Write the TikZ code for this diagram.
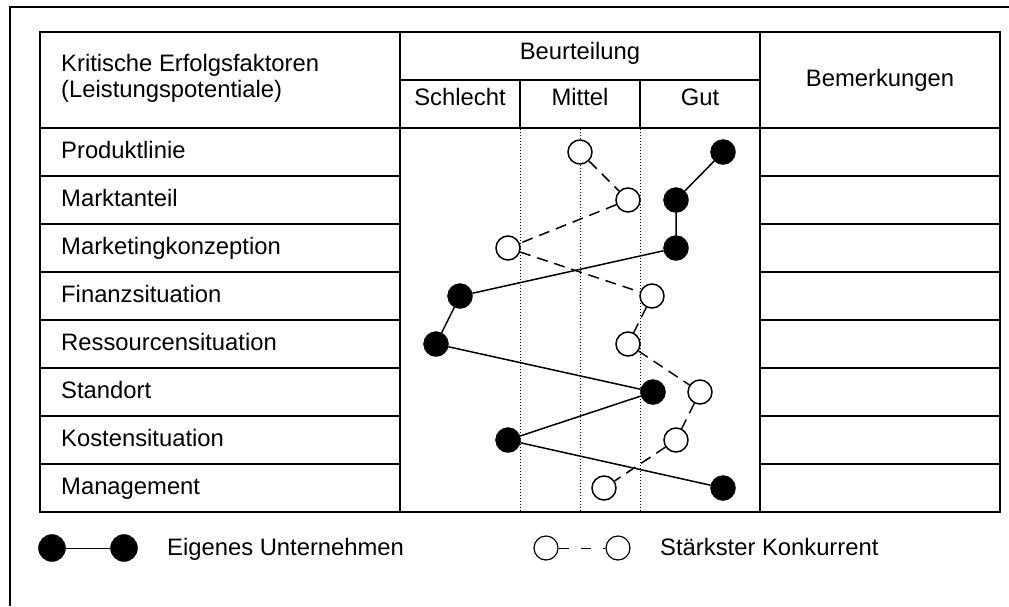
\documentclass[tikz,border=0pt]{standalone}
\usepackage{fontspec}
\setmainfont{Liberation Sans}
\begin{document}
\begin{tikzpicture}[x=1pt,y=-1pt,font=\fontsize{23.8}{28}\selectfont,
  grid/.style={line width=2pt},
  dotline/.style={line width=1pt,dash pattern=on 1pt off 2pt},
  own/.style={circle,fill=black,draw=black,minimum size=25pt,inner sep=0pt},
  comp/.style={circle,fill=white,draw=black,line width=1.5pt,minimum size=24pt,inner sep=0pt},
  ownline/.style={line width=1.5pt},
  compline/.style={line width=1.5pt,dash pattern=on 11pt off 7pt},
  lbl/.style={anchor=base west,inner sep=0pt},
  hdr/.style={anchor=base,inner sep=0pt}]
\useasboundingbox (0,0) rectangle (1009,606);
% outer frame
\draw[grid] (10,606) -- (10,7) -- (1009,7);
% table
\draw[grid] (40,32) rectangle (1000,512);
\draw[grid] (400,32) -- (400,512);
\draw[grid] (760,32) -- (760,512);
\draw[grid] (400,80) -- (760,80);
\draw[grid] (40,128) -- (1000,128);
\draw[grid] (520,80) -- (520,128);
\draw[grid] (640,80) -- (640,128);
\foreach \y in {176,224,272,320,368,416,464} {
  \draw[grid] (40,\y) -- (400,\y);
  \draw[grid] (760,\y) -- (1000,\y);
}
\foreach \x in {520,580,640} \draw[dotline] (\x,129) -- (\x,511);
% header texts
\node[lbl] (h1) at (61,71) {Kritische Erfolgsfaktoren};
\node[lbl] (h2) at (61,97) {(Leistungspotentiale)};
\node[hdr] (hb) at (580,59) {Beurteilung};
\node[hdr] (hs) at (460,105) {Schlecht};
\node[hdr] (hm) at (580,105) {Mittel};
\node[hdr] (hg) at (700,105) {Gut};
\node[hdr] (hr) at (880,86) {Bemerkungen};
% row labels
\node[lbl] (r1) at (61,158.5) {Produktlinie};
\node[lbl] (r2) at (61,206.5) {Marktanteil};
\node[lbl] (r3) at (61,254.5) {Marketingkonzeption};
\node[lbl] (r4) at (61,302.5) {Finanzsituation};
\node[lbl] (r5) at (61,350.5) {Ressourcensituation};
\node[lbl] (r6) at (61,398.5) {Standort};
\node[lbl] (r7) at (61,446.5) {Kostensituation};
\node[lbl] (r8) at (61,494.5) {Management};
% own company
\node[own] (e1) at (723,152) {};
\node[own] (e2) at (676,200) {};
\node[own] (e3) at (676,248) {};
\node[own] (e4) at (460,296) {};
\node[own] (e5) at (436,344) {};
\node[own] (e6) at (653,392) {};
\node[own] (e7) at (508,440) {};
\node[own] (e8) at (723,488) {};
% competitor
\node[comp] (k1) at (580,152) {};
\node[comp] (k2) at (628,200) {};
\node[comp] (k3) at (508,248) {};
\node[comp] (k4) at (652,296) {};
\node[comp] (k5) at (628,344) {};
\node[comp] (k6) at (700,392) {};
\node[comp] (k7) at (676,440) {};
\node[comp] (k8) at (604,488) {};
\draw[ownline] (e1) -- (e2) -- (e3) -- (e4) -- (e5) -- (e6) -- (e7) -- (e8);
\draw[compline] (k1) -- (k2) -- (k3) -- (k4) -- (k5) -- (k6) -- (k7) -- (k8);
% legend
\node[own,minimum size=27pt] (l1) at (52,548) {};
\node[own,minimum size=27pt] (l2) at (124,548) {};
\draw[line width=1pt] (l1) -- (l2);
\node[lbl] (lt1) at (167,555) {Eigenes Unternehmen};
\node[comp,line width=1.2pt] (l3) at (546,548) {};
\node[comp,line width=1.2pt] (l4) at (618,548) {};
\draw[line width=1pt,dash pattern=on 10pt off 12pt] (l3) -- (l4);
\node[lbl] (lt2) at (660,555) {Stärkster Konkurrent};
\end{tikzpicture}
\end{document}
